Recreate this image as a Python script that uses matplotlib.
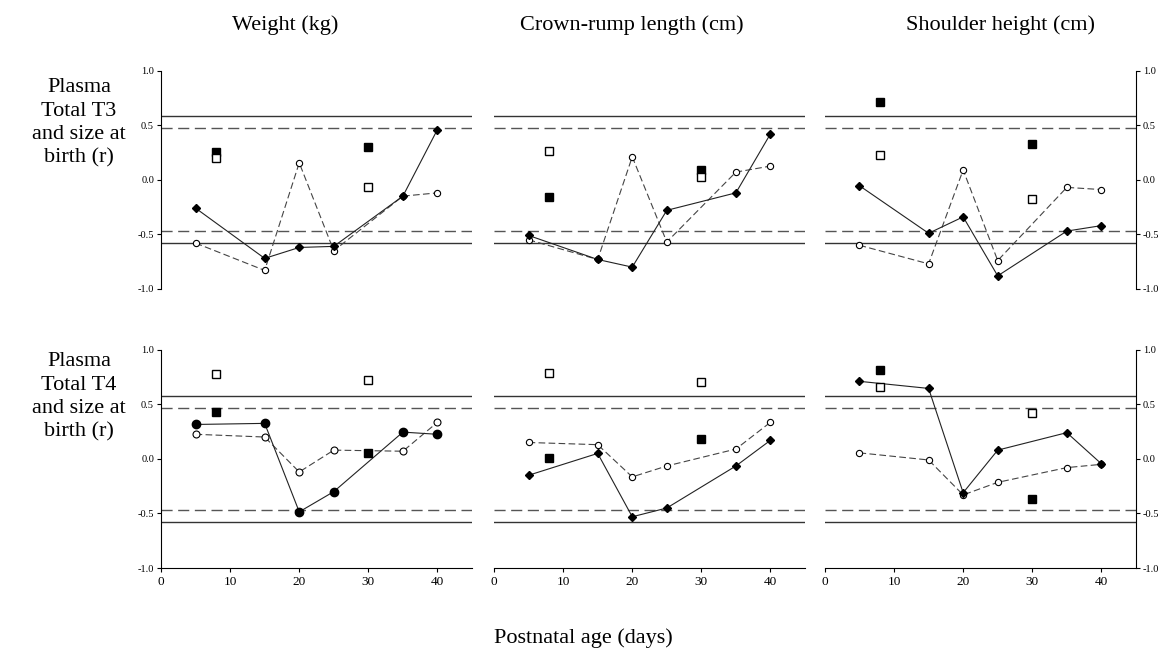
import numpy as np
import matplotlib.pyplot as plt

plt.rcParams['font.family'] = ['Liberation Serif', 'DejaVu Serif']

# sampling days for the correlation series
days = [5, 15, 20, 25, 35, 40]
# days for the single (square) points
sq_days = [8, 30]

columns = ["Weight (kg)", "Crown-rump length (cm)", "Shoulder height (cm)"]
rows = ["Plasma\nTotal T3\nand size at\nbirth (r)", "Plasma\nTotal T4\nand size at\nbirth (r)"]

# filled markers, solid line
t3_filled = [
    [-0.26, -0.72, -0.62, -0.61, -0.15, 0.46],
    [-0.51, -0.73, -0.80, -0.28, -0.12, 0.42],
    [-0.055, -0.49, -0.34, -0.88, -0.47, -0.42],
]
# open markers, dashed line
t3_open = [
    [-0.58, -0.83, 0.155, -0.65, -0.15, -0.12],
    [-0.55, -0.73, 0.21, -0.57, 0.07, 0.125],
    [-0.60, -0.77, 0.09, -0.74, -0.07, -0.09],
]
t3_sq_filled = [[0.25, 0.30], [-0.155, 0.09], [0.71, 0.33]]
t3_sq_open = [[0.20, -0.065], [0.265, 0.025], [0.225, -0.175]]

t4_filled = [
    [0.315, 0.325, -0.485, -0.30, 0.245, 0.225],
    [-0.15, 0.05, -0.53, -0.45, -0.065, 0.17],
    [0.71, 0.645, -0.31, 0.08, 0.24, -0.045],
]
t4_open = [
    [0.225, 0.20, -0.12, 0.08, 0.07, 0.335],
    [0.15, 0.13, -0.165, -0.065, 0.09, 0.335],
    [0.055, -0.01, -0.33, -0.215, -0.08, -0.05],
]
t4_sq_filled = [[0.43, 0.05], [0.01, 0.18], [0.81, -0.37]]
t4_sq_open = [[0.775, 0.72], [0.785, 0.70], [0.66, 0.42]]

crit_solid = 0.58
crit_dash = 0.47

fig = plt.figure(figsize=(11.66, 6.56), dpi=100)

lefts = [0.1381, 0.4237, 0.7075]
bottoms = [0.5595, 0.134]
w, h = 0.2667, 0.3330
title_x = [285, 632, 1000]
row_y = [123, 397]

data = [(t3_filled, t3_open, t3_sq_filled, t3_sq_open),
        (t4_filled, t4_open, t4_sq_filled, t4_sq_open)]

for r in range(2):
    filled, opn, sqf, sqo = data[r]
    for c in range(3):
        ax = fig.add_axes([lefts[c], bottoms[r], w, h])
        for v in (crit_solid, -crit_solid):
            ax.axhline(v, color='#333333', lw=1.0, zorder=1)
        for v in (crit_dash, -crit_dash):
            ax.axhline(v, color='#555555', lw=1.0, ls=(0, (8, 4)), zorder=1)

        big = (r == 1 and c == 0)
        mk = 'o' if big else 'D'
        ms = 6 if big else 4
        ax.plot(days, opn[c], color='#444444', lw=0.8, ls=(0, (6, 3)),
                marker='o', ms=5 if big else 4.5, mfc='white', mec='black', mew=0.8, zorder=3)
        ax.plot(days, filled[c], color='#222222', lw=0.8, ls='-',
                marker=mk, ms=ms, mfc='black', mec='black', zorder=4)
        ax.plot(sq_days, sqf[c], ls='none', marker='s', ms=6,
                mfc='black', mec='black', zorder=5)
        ax.plot(sq_days, sqo[c], ls='none', marker='s', ms=6,
                mfc='white', mec='black', mew=1.0, zorder=5)

        ax.set_xlim(0, 45)
        ax.set_ylim(-1.0, 1.0)
        ax.set_facecolor('none')
        for s in ('top', 'right', 'left', 'bottom'):
            ax.spines[s].set_visible(False)

        ax.set_yticks([1.0, 0.5, 0.0, -0.5, -1.0])
        ax.set_yticklabels(['1.0', '0.5', '0.0', '-0.5', '-1.0'])
        if c == 0:
            ax.spines['left'].set_visible(True)
            ax.tick_params(axis='y', left=True, labelleft=True, right=False, labelright=False)
        elif c == 2:
            ax.spines['right'].set_visible(True)
            ax.tick_params(axis='y', left=False, labelleft=False, right=True, labelright=True)
        else:
            ax.tick_params(axis='y', left=False, labelleft=False)
        ax.tick_params(axis='y', direction='out', length=3, width=0.8, labelsize=7.5, pad=2)

        if r == 1:
            ax.spines['bottom'].set_visible(True)
            ax.set_xticks([0, 10, 20, 30, 40])
            ax.tick_params(axis='x', direction='out', length=3, width=0.8, labelsize=9.5, pad=3)
        else:
            ax.tick_params(axis='x', bottom=False, labelbottom=False)

        for sp in ax.spines.values():
            sp.set_linewidth(0.8)

        if r == 0:
            fig.text(title_x[c] / 1166, 1 - 25 / 656, columns[c], ha='center', va='center',
                     fontsize=16)

    fig.text(79 / 1166, 1 - row_y[r] / 656, rows[r], ha='center', va='center',
             fontsize=16, linespacing=1.32)

fig.text(583 / 1166, 1 - 638 / 656, "Postnatal age (days)", ha='center', va='center', fontsize=16)

fig.savefig('out.png', dpi=100)
